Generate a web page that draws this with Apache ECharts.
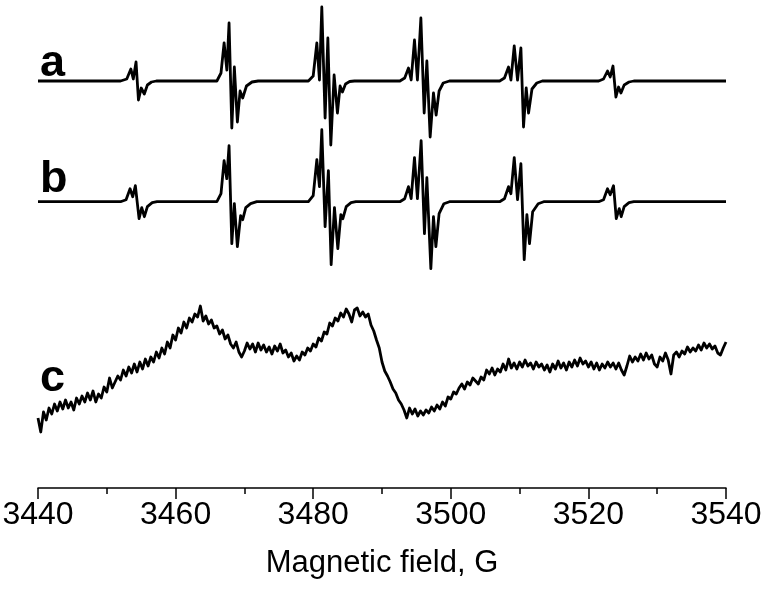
<!DOCTYPE html>
<html>
<head>
<meta charset="utf-8">
<script src="https://cdn.jsdelivr.net/npm/echarts@6/dist/echarts.min.js"></script>
<style>
html,body{margin:0;padding:0;background:#fff;}
#chart{width:769px;height:591px;}
</style>
</head>
<body>
<div id="chart"></div>
<script>
// Magnetic field axis
const fieldMin = 3440;
const fieldMax = 3540;
const fieldTickStep = 20;
const axisName = 'Magnetic field, G';
const traceLabels = ['a', 'b', 'c'];

// Trace a (experimental-like sextet), [field G, intensity a.u.]
const traceA = [
  [3440, 0], [3452.0, 0],
  [3452.9, 2], [3453.5, 12], [3453.85, 2], [3454.25, 19], [3454.6, -19], [3455.0, -7], [3455.45, -13], [3455.9, -4], [3456.5, -1], [3457.2, 0],
  [3466.0, 0], [3466.6, 8], [3467.05, 38], [3467.45, 11], [3467.77, 58], [3468.17, -47], [3468.54, 14], [3468.98, -41], [3469.37, -10], [3469.75, -17], [3470.3, -5], [3471.1, -1], [3472.0, 0],
  [3479.3, 0], [3480.0, 5], [3480.53, 38], [3480.91, 1], [3481.25, 74], [3481.73, -37], [3482.13, 43], [3482.56, -64], [3483.04, 6], [3483.52, -32], [3483.91, -5], [3484.25, -11], [3484.7, -3], [3485.3, -0.5], [3486.0, 0],
  [3492.6, 0], [3493.3, 3], [3493.85, 13], [3494.24, 1], [3494.72, 41], [3495.15, 1], [3495.65, 63], [3496.13, -32], [3496.52, 20], [3497.0, -56], [3497.48, -12], [3497.87, -34], [3498.3, -10], [3498.9, -2], [3499.8, 0],
  [3507.1, 0], [3507.8, 3], [3508.39, 14], [3508.74, 1], [3509.22, 35], [3509.7, 1], [3510.19, 33], [3510.57, -46], [3510.96, -7], [3511.3, -32], [3511.8, -8], [3512.5, -2], [3513.3, 0],
  [3521.5, 0], [3522.2, 2], [3522.78, 10], [3523.17, 4], [3523.57, 15], [3524.0, -16], [3524.38, -6], [3524.73, -12], [3525.2, -4], [3525.9, -1], [3526.6, 0],
  [3540, 0]
];

// Trace b (simulation), [field G, intensity a.u.]
const traceB = [
  [3440, 0], [3452.0, 0],
  [3452.8, 2], [3453.38, 13], [3453.77, 5], [3454.15, 16], [3454.69, -17], [3455.08, -6], [3455.46, -15], [3455.9, -5], [3456.6, -1], [3457.3, 0],
  [3466.0, 0], [3466.6, 8], [3467.05, 41], [3467.44, 23], [3467.77, 56], [3468.17, -42], [3468.54, -2], [3468.98, -45], [3469.45, -14], [3469.75, -18], [3470.2, -6], [3470.9, -2], [3471.8, 0],
  [3479.3, 0], [3480.0, 6], [3480.53, 42], [3480.91, 15], [3481.25, 72], [3481.73, -25], [3482.21, 31], [3482.61, -63], [3483.09, -6], [3483.58, -47], [3484.02, -13], [3484.31, -17], [3484.8, -5], [3485.5, -1], [3486.2, 0],
  [3492.6, 0], [3493.3, 3], [3493.85, 15], [3494.24, 3], [3494.72, 44], [3495.15, 3], [3495.69, 61], [3496.17, -32], [3496.52, 24], [3497.1, -67], [3497.48, -15], [3497.83, -45], [3498.3, -12], [3499.0, -2], [3499.8, 0],
  [3507.1, 0], [3507.8, 3], [3508.39, 15], [3508.74, 8], [3509.22, 44], [3509.7, 2], [3510.19, 38], [3510.67, -58], [3511.06, -13], [3511.44, -42], [3511.9, -10], [3512.7, -2], [3513.5, 0],
  [3521.5, 0], [3522.2, 2], [3522.78, 13], [3523.17, 7], [3523.65, 16], [3524.05, -17], [3524.48, -7], [3524.77, -15], [3525.2, -5], [3525.9, -1], [3526.6, 0],
  [3540, 0]
];

// Trace c (noisy broad spectrum), sampled every 0.4 G from 3440 G
const traceCStart = 3440;
const traceCStep = 0.4;
const traceCValues = [
  70, 56, 76, 68, 80,   74, 84, 77, 86, 79,   88, 80, 86, 78, 90,   84, 92, 86, 95, 88,
  97, 86, 94, 90, 101,  96, 110, 100, 106, 112, 108, 118, 112, 121, 115, 124, 116, 126, 119, 129,
  122, 131, 126, 136, 130, 140, 134, 146, 140, 153, 148, 160, 155, 166, 160, 170, 166, 174, 171, 182,
  167, 172, 164, 168, 160, 162, 154, 158, 149, 153, 144, 140, 146, 136, 131, 137, 145, 139, 144, 136,
  145, 138, 143, 136, 141, 134, 142, 137, 144, 135, 138, 131, 135, 127, 132, 128, 136, 133, 140, 137,
  144, 141, 150, 147, 156, 154, 165, 162, 170, 167, 175, 171, 179, 174, 166, 178, 180, 172, 176, 171,
  174, 163, 157, 148, 140, 126, 117, 112, 106, 99,  95, 88, 84, 78, 70,   80, 74, 79, 72, 77,
  73, 78, 75, 81, 77,   83, 79, 86, 82, 91,   89, 96, 94, 100, 104, 99, 106, 103, 110, 107,
  104, 111, 108, 118, 114, 120, 113, 119, 116, 124, 118, 129, 120, 125, 119, 126, 121, 128, 122, 125,
  119, 126, 121, 124, 118, 123, 116, 124, 119, 127, 120, 125, 118, 126, 121, 128, 122, 130, 124, 127,
  121, 126, 119, 125, 118, 124, 120, 126, 121, 125, 119, 125, 118, 113, 122, 132, 126, 131, 127, 134,
  128, 135, 129, 133, 124, 121, 131, 127, 135, 128, 114, 133, 136, 131, 137, 134, 141, 136, 140, 137,
  143, 138, 145, 140, 144, 139, 142, 135, 133, 140, 146
];

const traceC = traceCValues.map((v, i) => [+(traceCStart + i * traceCStep).toFixed(2), v]);

const chart = echarts.init(document.getElementById('chart'), null, {renderer: 'canvas'});
const FONT = 'Liberation Sans, Arial, Helvetica, sans-serif';

const hiddenX = (gi) => ({
  type: 'value', gridIndex: gi, min: fieldMin, max: fieldMax, show: false
});
const hiddenY = (gi, mn, mx) => ({
  type: 'value', gridIndex: gi, min: mn, max: mx, show: false
});

const lineStyle = {color: '#000', width: 2.8, join: 'round'};
const gridBase = {left: 38, right: 43, containLabel: false, outerBoundsMode: 'none'};

chart.setOption({
  animation: false,
  backgroundColor: '#fff',
  grid: [
    Object.assign({top: 0, height: 162}, gridBase),
    Object.assign({top: 101.7, height: 200}, gridBase),
    Object.assign({top: 290, bottom: 103}, gridBase)
  ],
  xAxis: [
    hiddenX(0),
    hiddenX(1),
    {
      type: 'value', gridIndex: 2, min: fieldMin, max: fieldMax, interval: fieldTickStep,
      name: axisName, nameLocation: 'middle', nameGap: 60,
      nameTextStyle: {color: '#000', fontSize: 31, fontFamily: FONT},
      axisLine: {show: true, lineStyle: {color: '#000', width: 1.5}},
      axisTick: {show: true, length: 11, lineStyle: {color: '#000', width: 1.5}},
      minorTick: {show: true, splitNumber: 2, length: 6, lineStyle: {color: '#000', width: 1.5}},
      axisLabel: {color: '#000', fontSize: 32, fontFamily: FONT, margin: 11, formatter: (v) => String(v)},
      splitLine: {show: false}
    }
  ],
  yAxis: [
    hiddenY(0, -81, 81),
    hiddenY(1, -100, 100),
    hiddenY(2, 0, 198)
  ],
  series: [
    {type: 'line', name: traceLabels[0], xAxisIndex: 0, yAxisIndex: 0, data: traceA, showSymbol: false, lineStyle: lineStyle},
    {type: 'line', name: traceLabels[1], xAxisIndex: 1, yAxisIndex: 1, data: traceB, showSymbol: false, lineStyle: lineStyle},
    {type: 'line', name: traceLabels[2], xAxisIndex: 2, yAxisIndex: 2, data: traceC, showSymbol: false, lineStyle: lineStyle}
  ],
  graphic: [
    {type: 'text', left: 40, top: 41, style: {text: traceLabels[0], font: 'bold 45px ' + FONT, fill: '#000'}},
    {type: 'text', left: 40, top: 157, style: {text: traceLabels[1], font: 'bold 45px ' + FONT, fill: '#000'}},
    {type: 'text', left: 40, top: 356, style: {text: traceLabels[2], font: 'bold 45px ' + FONT, fill: '#000'}}
  ]
});
</script>
</body>
</html>
